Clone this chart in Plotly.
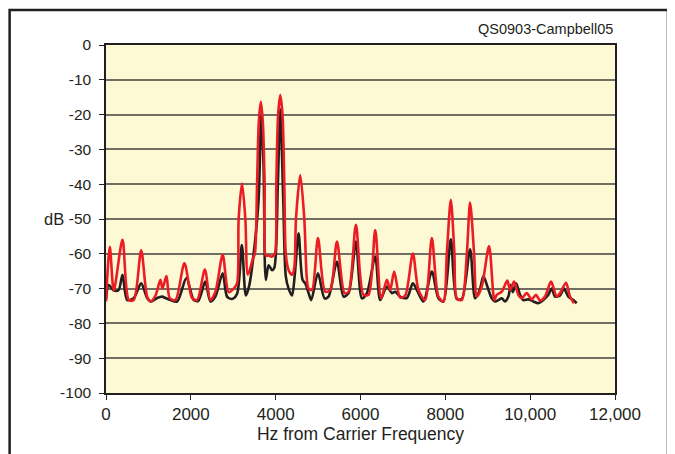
import plotly.graph_objects as go

# Red trace (frequency in Hz, level in dB)
red_hz = [0, 90, 184, 389, 537, 655, 829, 970, 1048, 1166, 1283, 1331, 1425, 1502, 1637,
          1849, 2030, 2148, 2331, 2461, 2578, 2751, 2892, 3010, 3090, 3127, 3208, 3285, 3344,
          3462, 3509, 3561, 3603, 3650, 3697, 3740, 3768, 3827, 3914, 3980, 4015, 4058, 4109,
          4161, 4204, 4239, 4305, 4385, 4439, 4479, 4580, 4675, 4734, 4776, 4856, 4997, 5169,
          5287, 5445, 5624, 5718, 5892, 6071, 6189, 6347, 6488, 6622, 6700, 6794, 6935, 7053,
          7234, 7366, 7524, 7682, 7837, 7955, 8035, 8129, 8214, 8271, 8388, 8506, 8584, 8678,
          8742, 8859, 9031, 9156, 9212, 9330, 9462, 9526, 9620, 9721, 9800, 9919, 10037, 10138,
          10232, 10350, 10492, 10626, 10704, 10845, 10939, 11033]
red_db = [-73.7, -58, -70.5, -56, -73.3, -73.3, -59, -72.3, -73.7, -72, -67.5, -70, -66.4, -72.7, -73.3,
          -62.7, -72.7, -73.3, -64.5, -73.3, -71, -60.3, -71, -70, -68.5, -50, -39.8, -50, -66,
          -61.5, -60, -40, -22, -16.3, -22, -40, -60.5, -60.5, -60.8, -60, -40, -20, -14.4,
          -20, -40, -60, -64.7, -66, -64, -50, -37.4, -50, -67, -70, -70.4, -55.5, -70.9,
          -70.4, -56.5, -71.3, -70.9, -51.7, -71.8, -71.8, -53.2, -72.8, -67.5, -70.4, -65.1, -72.6, -72,
          -59.9, -70.4, -73.3, -55.5, -72.3, -73.7, -60, -44.5, -60, -72.8, -73.3, -60, -45.3, -60,
          -72.3, -69.4, -57.8, -73.3, -71.8, -70.9, -67.7, -70.4, -68, -71.8, -72.8, -71.3, -73.1, -71.8,
          -73.4, -72.3, -68, -72.3, -71.3, -68.3, -72.3, -74.2]

# Black trace
black_hz = [0, 66, 177, 294, 389, 499, 655, 829, 970, 1064, 1206, 1324, 1401, 1519, 1677,
            1896, 2068, 2178, 2340, 2461, 2578, 2751, 2854, 2972, 3090, 3203, 3297, 3379, 3462,
            3595, 3660, 3715, 3768, 3834, 3914, 3968, 4051, 4109, 4180, 4239, 4305, 4385, 4451,
            4540, 4634, 4698, 4776, 4839, 4997, 5153, 5247, 5445, 5600, 5718, 5892, 6033, 6151,
            6347, 6465, 6622, 6740, 6818, 6935, 7093, 7234, 7329, 7484, 7682, 7837, 7955, 8129,
            8271, 8388, 8584, 8702, 8820, 8897, 8991, 9095, 9173, 9250, 9330, 9408, 9486, 9542,
            9589, 9667, 9762, 9839, 9957, 10075, 10192, 10310, 10428, 10508, 10586, 10704, 10798,
            10899, 11017, 11097]
black_db = [-73, -69, -70.5, -70.5, -66, -73.3, -72.7, -68.5, -72.7, -73.7, -72.7, -72.3, -72.7, -73.3, -73.7,
            -67, -73.3, -73.5, -68, -73.7, -72.3, -65.6, -72.3, -73, -71.5, -57.5, -72, -69, -62,
            -45, -20, -35, -67.5, -63.3, -64.7, -64, -40, -18.5, -45, -66.5, -70, -72, -66,
            -54.1, -67.5, -68.5, -71.3, -73.3, -65.6, -72.8, -72.3, -62.3, -72.3, -71.3, -56.5, -72.8, -71.3,
            -60.8, -73.3, -69.4, -71.3, -70.9, -72.3, -72.7, -68.5, -70.4, -73.7, -65.1, -72.8, -73.7, -55.8,
            -73, -73, -58.7, -72.8, -70, -66.4, -69.4, -72.8, -73.7, -73.3, -72.8, -73.7, -72.3, -69,
            -71, -68.5, -71.8, -73.3, -73.1, -73.7, -74.2, -73.3, -71.8, -70, -72.3, -72, -70,
            -72.3, -73.3, -74.2]

x_tickvals = [0, 2000, 4000, 6000, 8000, 10000, 12000]
x_ticktext = ["0", "2000", "4000", "6000", "8000", "10,000", "12,000"]
y_tickvals = [0, -10, -20, -30, -40, -50, -60, -70, -80, -90, -100]
y_ticktext = ["0", "-10", "-20", "-30", "-40", "-50", "-60", "-70", "-80", "-90", "-100"]

# page body has an 8px margin, so the figure is drawn 8px in from the window edge
OFF = 8
W, H = 675 - OFF, 454 - OFF
L, T = 105.5 - OFF, 45 - OFF
R, B = W - (615 - OFF), H - (393 - OFF)
pw, ph = W - L - R, H - T - B

fig = go.Figure()
fig.add_trace(go.Scatter(x=black_hz, y=black_db, mode="lines",
                         line=dict(color="#231f20", width=2.6, shape="spline", smoothing=0.8),
                         showlegend=False, hoverinfo="skip"))
fig.add_trace(go.Scatter(x=red_hz, y=red_db, mode="lines",
                         line=dict(color="#ec1c24", width=2.6, shape="spline", smoothing=0.8),
                         showlegend=False, hoverinfo="skip"))

font = "Liberation Sans, Arial, sans-serif"
fig.update_layout(
    width=W, height=H,
    margin=dict(l=L, r=R, t=T, b=B, pad=0),
    paper_bgcolor="white", plot_bgcolor="#fef9d5",
    font=dict(family=font, size=17, color="#231f20"),
    showlegend=False,
    xaxis=dict(range=[0, 12000], tickvals=x_tickvals, ticktext=x_ticktext,
               showgrid=False, zeroline=False, showline=True, linecolor="#231f20", linewidth=1.5,
               mirror=True, ticks="outside", ticklen=5, tickcolor="#231f20",
               tickfont=dict(size=17),
               title=dict(text="Hz from Carrier Frequency", standoff=4, font=dict(size=17.5))),
    yaxis=dict(range=[-100, 0], tickvals=y_tickvals, ticktext=y_ticktext,
               showgrid=True, gridcolor="#706e64",
               gridwidth=1.5, zeroline=False, showline=True, linecolor="#231f20", linewidth=1.5,
               mirror=True, ticks="outside", ticklen=5, tickcolor="#231f20",
               tickfont=dict(size=15.5), ticklabelstandoff=5),
)

# dB label (horizontal, beside the -50 tick)
fig.add_annotation(text="dB", xref="paper", yref="y", x=(53 - OFF - L) / pw, y=-50,
                   xanchor="center", yanchor="middle", showarrow=False, font=dict(size=16.5))
# figure id text
fig.add_annotation(text="QS0903-Campbell05", xref="paper", yref="paper", x=1.0,
                   y=(H - B - (29 - OFF)) / ph, xanchor="right", yanchor="middle", showarrow=False,
                   font=dict(size=14.5))
# outer frame
fig.add_shape(type="rect", xref="paper", yref="paper",
              x0=(8 - OFF - L) / pw + 0.002, x1=(668 - OFF - L) / pw,
              y0=(H - B - 470) / ph, y1=(H - B - (10 - OFF)) / ph,
              line=dict(color="#231f20", width=2.5), fillcolor="rgba(0,0,0,0)", layer="below")

fig.write_html("out.html")
